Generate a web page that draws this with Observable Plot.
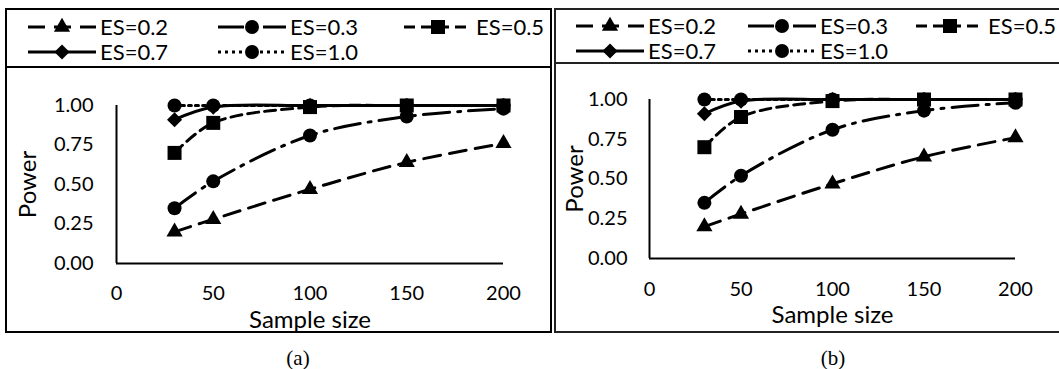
<!DOCTYPE html>
<html><head><meta charset="utf-8">
<script src="https://cdn.jsdelivr.net/npm/d3@7"></script>
<script src="https://cdn.jsdelivr.net/npm/@observablehq/plot@0.6"></script>
<style>
html,body{margin:0;padding:0;background:#fff;}
body{width:1059px;height:369px;position:relative;overflow:hidden;font-family:Lato,"Open Sans",sans-serif;color:#000;}
.abs{position:absolute;box-sizing:border-box;}
.cap{position:absolute;font-family:"Liberation Serif","DejaVu Serif",serif;font-size:21px;transform:translate(-50%,-50%);white-space:nowrap;}
</style></head><body>
<script>
// ---- data ----
const sampleSizes = [30, 50, 100, 150, 200];
const seriesNames = ["ES=0.2", "ES=0.3", "ES=0.5", "ES=0.7", "ES=1.0"];
const es02 = [0.20, 0.28, 0.47, 0.64, 0.76];
const es03 = [0.35, 0.52, 0.81, 0.93, 0.98];
const es05 = [0.70, 0.89, 0.99, 1.00, 1.00];
const es07 = [0.91, 0.99, 1.00, 1.00, 1.00];
const es10 = [1.00, 1.00, 1.00, 1.00, 1.00];
const xTicks = [0, 50, 100, 150, 200];
const yTicks = [0, 0.25, 0.5, 0.75, 1];
const xTitle = "Sample size";
const yTitle = "Power";
const panelCaptions = ["(a)", "(b)"];

// ---- styles ----
const seriesValues = [es02, es03, es05, es07, es10];
const seriesDash = ["17 9", "26 8 3 8", "11 6", null, "3 4"];
const seriesSymbol = ["triangle", "circle", "square", "diamond2", "circle"];
const seriesR = [6, 7, 7.9, 6.8, 7];

const rows = seriesNames.flatMap((name, i) =>
  sampleSizes.map((n, j) => ({series: name, n, power: seriesValues[i][j]})));

const panels = [
  {box:{l:5,t:8,w:547,h:325,color:"#000"}, sep:66,
   svg:{l:7,t:69,w:544,h:263}, m:{l:109,r:48,t:36,b:69},
   padX:22, padY:23, xdy:57, ydx:-88,
   legend:{rows:[27,52], cols:[100,290,476]}, cap:{x:298,y:358}},
  {box:{l:554,t:8,w:520,h:325,color:"#222"}, sep:62,
   svg:{l:556,t:65,w:503,h:266}, m:{l:93,r:44,t:34,b:73},
   padX:23, padY:22, xdy:57, ydx:-74,
   legend:{rows:[26,51], cols:[648,820,988]}, cap:{x:833,y:358}}
];

const body = document.body;

panels.forEach((p, pi) => {
  // panel frame
  const box = document.createElement("div");
  box.className = "abs";
  Object.assign(box.style, {left:p.box.l+"px", top:p.box.t+"px", width:p.box.w+"px", height:p.box.h+"px",
    border:"2px solid "+p.box.color, zIndex:3});
  body.appendChild(box);
  const sep = document.createElement("div");
  sep.className = "abs";
  Object.assign(sep.style, {left:p.box.l+"px", top:p.sep+"px", width:p.box.w+"px", height:"2px", background:p.box.color, zIndex:3});
  body.appendChild(sep);

  // chart
  const marks = [
    Plot.ruleY([0], {stroke:"black", strokeWidth:2}),
    Plot.ruleX([0], {stroke:"black", strokeWidth:2}),
    Plot.axisX(xTicks, {tickSize:0, tickPadding:p.padX, fontSize:20, label:null}),
    Plot.axisY(yTicks, {tickSize:0, tickPadding:p.padY, fontSize:20, label:null, tickFormat:d3.format(".2f")}),
    Plot.text([xTitle], {text:d=>d, frameAnchor:"bottom", dy:p.xdy, lineAnchor:"middle", fontSize:24}),
    Plot.text([yTitle], {text:d=>d, frameAnchor:"left", dx:p.ydx, rotate:-90, lineAnchor:"middle", textAnchor:"middle", fontSize:24})
  ];
  seriesNames.forEach((name, i) => {
    const d = rows.filter(r => r.series === name);
    marks.push(Plot.line(d, {x:"n", y:"power", curve:"catmull-rom", stroke:"black", strokeWidth:3,
      strokeDasharray: seriesDash[i] || undefined}));
    marks.push(Plot.dot(d, {x:"n", y:"power", symbol: seriesSymbol[i], r: seriesR[i], fill:"black", stroke:"none"}));
  });
  const chart = Plot.plot({
    width:p.svg.w, height:p.svg.h,
    marginLeft:p.m.l, marginRight:p.m.r, marginTop:p.m.t, marginBottom:p.m.b,
    x:{domain:[0,200]}, y:{domain:[0,1]},
    style:{fontFamily:"Lato", fontSize:"20px", color:"black", background:"transparent", overflow:"visible"},
    marks
  });
  chart.classList.add("abs");
  Object.assign(chart.style, {left:p.svg.l+"px", top:p.svg.t+"px", zIndex:1});
  body.appendChild(chart);

  // legend
  const lg = d3.select(body).append("svg").attr("class","abs")
    .attr("width", 1059).attr("height", 70)
    .style("left","0px").style("top","0px").style("z-index",2).style("overflow","visible");
  seriesNames.forEach((name, i) => {
    const row = i < 3 ? 0 : 1, col = i < 3 ? i : i - 3;
    const tx = p.legend.cols[col], ty = p.legend.rows[row];
    const x0 = tx - 72, x1 = tx - 4, xm = (x0 + x1) / 2;
    lg.append("line").attr("x1",x0).attr("x2",x1).attr("y1",ty).attr("y2",ty)
      .attr("stroke","black").attr("stroke-width",3)
      .attr("stroke-dasharray", seriesDash[i] || null);
    const symMap = {triangle:d3.symbolTriangle, circle:d3.symbolCircle, square:d3.symbolSquare, diamond2:d3.symbolDiamond2};
    lg.append("path").attr("d", d3.symbol(symMap[seriesSymbol[i]], Math.PI*seriesR[i]*seriesR[i])())
      .attr("transform",`translate(${xm},${ty})`).attr("fill","black");
    lg.append("text").attr("x",tx).attr("y",ty).attr("dy","0.35em")
      .attr("font-family","Lato").attr("font-size",22).text(name);
  });

  // caption
  const cap = document.createElement("div");
  cap.className = "cap";
  cap.style.left = p.cap.x + "px"; cap.style.top = p.cap.y + "px";
  cap.textContent = panelCaptions[pi];
  body.appendChild(cap);
});
</script>
</body></html>
